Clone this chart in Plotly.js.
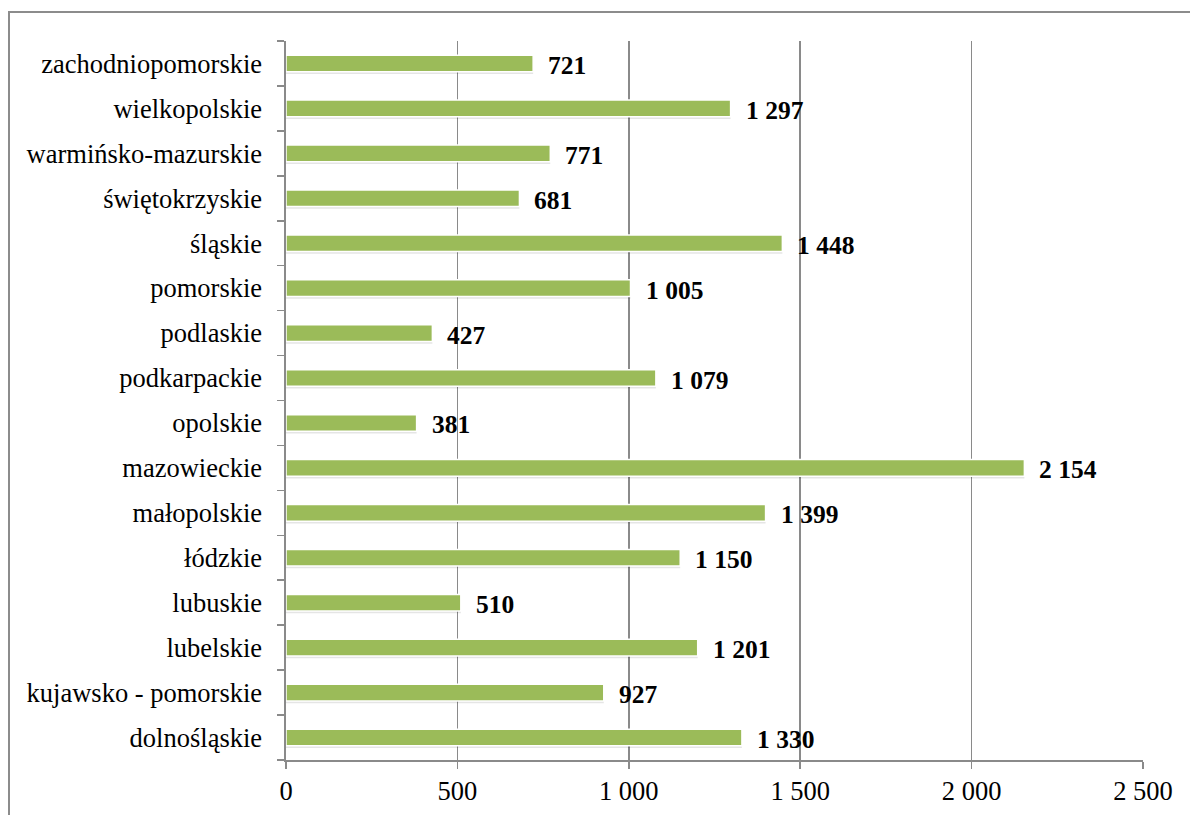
<!DOCTYPE html>
<html>
<head>
<meta charset="utf-8">
<script src="https://cdn.plot.ly/plotly-3.0.1.min.js"></script>
<style>
html,body{margin:0;padding:0;background:#fff;}
#wrap{position:relative;width:1190px;height:815px;overflow:hidden;}
#frame{position:absolute;left:8px;top:11px;width:1300px;height:900px;border-left:2px solid #8c8c8c;border-top:2px solid #8c8c8c;pointer-events:none;}
#chart{position:absolute;left:0;top:0;width:1190px;height:815px;}
</style>
</head>
<body>
<div id="wrap">
<div id="chart"></div>
<div id="frame"></div>
</div>
<script>
const regions = ["dolnośląskie","kujawsko - pomorskie","lubelskie","lubuskie","łódzkie","małopolskie","mazowieckie","opolskie","podkarpackie","podlaskie","pomorskie","śląskie","świętokrzyskie","warmińsko-mazurskie","wielkopolskie","zachodniopomorskie"];
const values = [1330,927,1201,510,1150,1399,2154,381,1079,427,1005,1448,681,771,1297,721];
const tickVals = [0,500,1000,1500,2000,2500];
const tickText = ["0","500","1 000","1 500","2 000","2 500"];

const FAM = 'Liberation Serif, Times New Roman, serif';
function fmt(v){return String(v).replace(/\B(?=(\d{3})+(?!\d))/g," ");}

const shadow = {
  type:'bar', orientation:'h', x:values, y:regions,
  width:0.37, offset:-0.235,
  marker:{color:'rgba(0,0,0,0.10)', line:{width:0}},
  hoverinfo:'skip', showlegend:false
};
const bars = {
  type:'bar', orientation:'h', x:values, y:regions,
  width:0.37, offset:-0.185,
  marker:{color:'#9BBB59', line:{color:'#ffffff', width:1.5}},
  showlegend:false
};

const annotations = values.map((v,i)=>({
  x:v, y:regions[i], xref:'x', yref:'y', text:'<b>'+fmt(v)+'</b>',
  showarrow:false, xanchor:'left', yanchor:'middle', xshift:13, yshift:-2,
  font:{family:FAM, size:25.5, color:'#000'}
}));

const layout = {
  width:1190, height:815,
  margin:{l:286, r:47, t:41, b:55, pad:0},
  paper_bgcolor:'#fff', plot_bgcolor:'#fff',
  barmode:'overlay',
  font:{family:FAM, size:26.5, color:'#000'},
  xaxis:{
    range:[0,2500], tickvals:tickVals, ticktext:tickText,
    showgrid:true, gridcolor:'#8a8a8a', gridwidth:1.6,
    showline:true, linecolor:'#8a8a8a', linewidth:1.6,
    ticks:'outside', ticklen:7, tickcolor:'#8a8a8a', tickwidth:1.6,
    zeroline:false, fixedrange:true,
    tickfont:{family:FAM, size:26.5, color:'#000'}
  },
  yaxis:{
    type:'category', categoryorder:'array', categoryarray:regions,
    range:[-0.5,15.5],
    showgrid:false, showline:true, linecolor:'#8a8a8a', linewidth:1.6,
    ticks:'outside', tickson:'boundaries', ticklen:7, tickcolor:'#8a8a8a', tickwidth:1.6,
    ticklabelstandoff:17,
    tickfont:{family:FAM, size:26.5, color:'#000'}, fixedrange:true
  },
  annotations:annotations
};

Plotly.newPlot('chart',[shadow,bars],layout,{displayModeBar:false,staticPlot:true});
</script>
</body>
</html>
